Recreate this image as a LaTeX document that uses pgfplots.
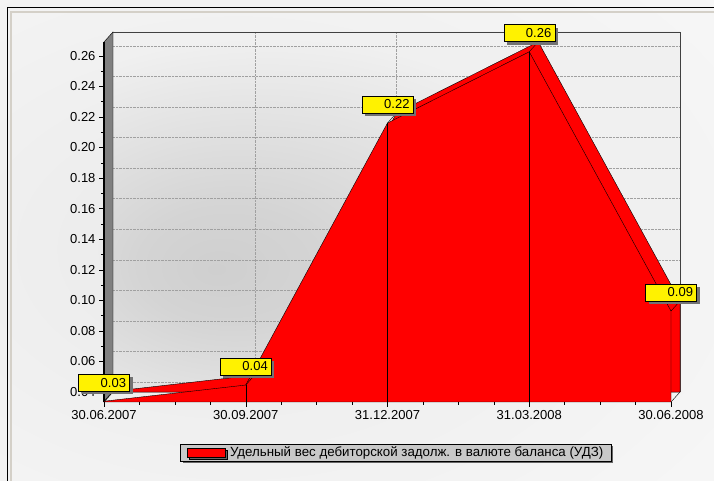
\documentclass[border=0pt]{standalone}
\usepackage{fontspec}
\setmainfont{Liberation Sans}
\usepackage{pgfplots}
\pgfplotsset{compat=1.18}
\usetikzlibrary{shadows}
\definecolor{bgc}{HTML}{EAEAEA}
\definecolor{bge}{HTML}{F8F8F8}
\definecolor{wallc}{HTML}{CFCFCF}
\definecolor{walle}{HTML}{F0F0F0}
\definecolor{frameb}{HTML}{D4D0C8}
\definecolor{legbg}{HTML}{C8C8C8}
\definecolor{wallgray}{HTML}{808080}
\definecolor{gridc}{HTML}{A0A0A0}
\pgfdeclareradialshading{bgshade}{\pgfpoint{-11bp}{-1bp}}{color(0bp)=(bgc); color(45bp)=(bge); color(100bp)=(bge)}
\pgfdeclareradialshading{wallshade}{\pgfpoint{-16bp}{-8bp}}{color(0bp)=(wallc); color(8bp)=(wallc!85!walle); color(30bp)=(walle); color(100bp)=(walle)}
\begin{document}
\begin{tikzpicture}
\shade[shading=bgshade] (0pt,0pt) rectangle (714pt,481pt);
\draw[frameb, line width=2pt] (11pt,0pt) -- (11pt,469pt) -- (714pt,469pt);
\draw[black, line width=1pt] (7pt,0pt) -- (7pt,473pt) -- (714pt,473pt);
\begin{axis}[
  at={(104pt,79pt)}, anchor=south west,
  scale only axis, width=567pt, height=360pt,
  xmin=0, xmax=4, ymin=0.0335, ymax=0.269,
  clip=false,
  axis x line*=bottom, axis y line*=left,
  axis line style={draw=none},
  tick align=outside,
  tick style={black, thin},
  major tick length=5pt, minor tick length=3pt,
  xtick={0,1,2,3,4},
  xticklabels={30.06.2007,30.09.2007,31.12.2007,31.03.2008,30.06.2008},
  minor x tick num=3,
  ytick={0.04,0.06,0.08,0.10,0.12,0.14,0.16,0.18,0.20,0.22,0.24,0.26},
  minor y tick num=1,
  yticklabel style={/pgf/number format/.cd, fixed, fixed zerofill, precision=2},
  /pgf/number format/assume math mode=true,
  tick label style={font=\fontsize{13}{15}\selectfont},
  legend style={at={(0.515,-0.14)}, anchor=center, fill=legbg, draw=black,
    font=\fontsize{13.3}{15}\selectfont, inner xsep=6pt, inner ysep=1pt,
    drop shadow={shadow xshift=2pt, shadow yshift=-2pt, fill=gray!80!black, opacity=1}},
  legend image code/.code={\draw[fill=red,draw=black] (0pt,-4.5pt) rectangle (38pt,4.5pt); \path (41pt,0pt);},
]
% back wall shading
\fill[shading=wallshade] ([xshift=9pt,yshift=10pt]axis cs:0,0.0335) rectangle ([xshift=9pt,yshift=10pt]axis cs:4,0.269);
% grid on back wall
\pgfplotsinvokeforeach{0.04,0.06,0.08,0.10,0.12,0.14,0.16,0.18,0.20,0.22,0.24,0.26}{
  \draw[gridc, densely dotted, xshift=9pt, yshift=10pt] (axis cs:0,#1) -- (axis cs:4,#1);
}
\pgfplotsinvokeforeach{1,2,3}{
  \draw[gridc, densely dotted, xshift=9pt, yshift=10pt] (axis cs:#1,0.0335) -- (axis cs:#1,0.269);
}
% back wall frame
\draw[black!75, xshift=9pt, yshift=10pt] (axis cs:0,0.269) -- (axis cs:4,0.269) -- (axis cs:4,0.0335);
% left wall
\draw[fill=wallgray, draw=black] (axis cs:0,0.0335) -- ++(9pt,10pt) -- ([xshift=9pt,yshift=10pt]axis cs:0,0.269) -- (axis cs:0,0.269) -- cycle;
\draw[black, line width=1.6pt] (axis cs:0,0.0335) -- (axis cs:0,0.269);
% back (shifted) surface
\addplot[fill=red, draw=black, forget plot] coordinates {
  (0.0635,0.0405) (1.0635,0.0511) (2.0635,0.2225) (3.0635,0.2691) (4.0635,0.0995)
  (4.0635,0.04) (0.0635,0.04) (0.0635,0.0405)};
% front face
\addplot[fill=red, draw=black] coordinates {
  (0,0.034) (1,0.0446) (2,0.216) (3,0.2626) (4,0.093) (4,0.0335) (0,0.0335) (0,0.034)};
\addlegendentry{Удельный вес дебиторской задолж. в валюте баланса (УДЗ)}
% edges
\draw (axis cs:1,0.0446) -- (axis cs:1,0.0335);
\draw (axis cs:2,0.216) -- (axis cs:2,0.0335);
\draw (axis cs:3,0.2626) -- (axis cs:3,0.0335);
\draw (axis cs:0,0.034) -- ++(9pt,10pt);
\draw (axis cs:1,0.0446) -- ++(9pt,10pt);
\draw (axis cs:2,0.216) -- ++(9pt,10pt);
\draw (axis cs:3,0.2626) -- ++(9pt,10pt);
\draw (axis cs:4,0.093) -- ++(9pt,10pt);
\draw (axis cs:4,0.0335) -- ++(9pt,10pt);
% value labels
\addplot[draw=none, forget plot, nodes near coords, point meta=explicit symbolic,
  every node near coord/.append style={anchor=south, fill=yellow, draw=black,
    font=\fontsize{13}{15}\selectfont, text width=44pt, align=right, inner sep=3.5pt,
    minimum height=17pt, text depth=0pt,
    drop shadow={shadow xshift=3pt, shadow yshift=-3pt, fill=gray!90!black, opacity=1}}]
  coordinates {(0,0.0405)[0.03] (1,0.0511)[0.04] (2,0.2225)[0.22] (3,0.2691)[0.26] (4,0.0995)[0.09]};
\end{axis}
\pgfresetboundingbox
\useasboundingbox (0pt,0pt) rectangle (714pt,481pt);
\end{tikzpicture}
\end{document}
